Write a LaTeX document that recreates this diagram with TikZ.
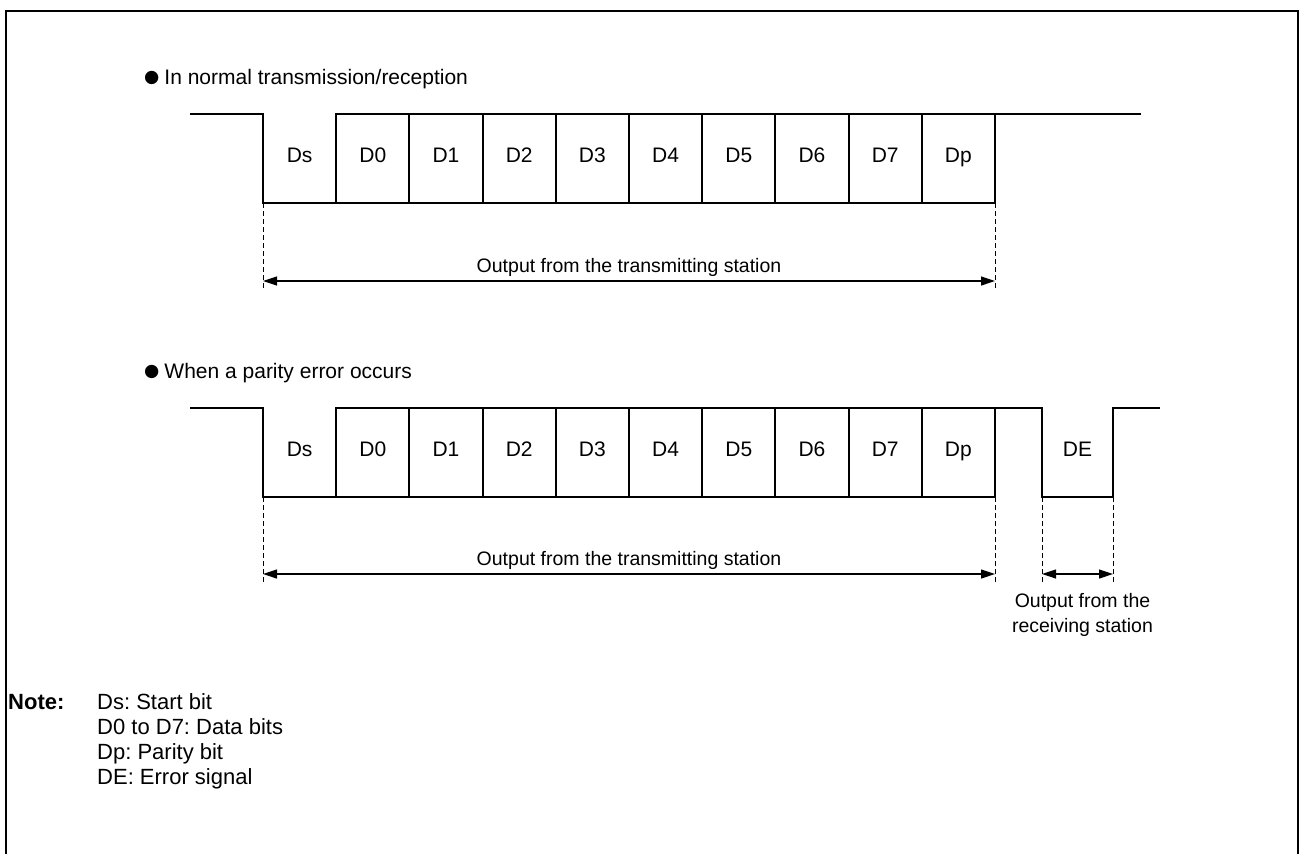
\documentclass[tikz,border=0pt]{standalone}
\usepackage{fontspec}
\setmainfont{Liberation Sans}
\newfontfamily\symfont{DejaVu Sans}
\usepackage{tikz}
\usetikzlibrary{arrows.meta, positioning}
\frenchspacing

\begin{document}
\begin{tikzpicture}[
    x=1pt, y=-1pt,
    wave/.style={line width=2pt},
    cell/.style={rectangle, draw, line width=2pt, minimum width=73.2pt,
                 minimum height=89pt, inner sep=0pt, outer sep=0pt,
                 text height=0.72em, text depth=0pt,
                 font=\fontsize{21}{25}\selectfont},
    guide/.style={line width=0.8pt, dash pattern=on 5pt off 3pt},
    dim/.style={{Triangle[length=14pt,width=9pt]}-{Triangle[length=14pt,width=9pt]},
                line width=1.2pt},
    heading/.style={anchor=base west, inner sep=0pt, font=\fontsize{21}{25}\selectfont},
    label/.style={font=\fontsize{19.5}{25}\selectfont, align=center},
    notetext/.style={anchor=base west, inner sep=0pt, font=\fontsize{22}{25}\selectfont}
]
    \useasboundingbox (0,0) rectangle (1301,854);
    \draw[line width=2.5pt] (6,854) -- (6,11) -- (1298,11) -- (1298,854);

    % normal transmission/reception
    \node[heading] (head1) at (144,84) {\raisebox{1.5pt}{\symfont\fontsize{17.5}{18}\selectfont ●}\hspace{5pt}In normal transmission/reception};
    \node[cell, draw=none] (a0) at (299.6,158.5) {Ds};
    \foreach \lbl [count=\i] in {D0,D1,D2,D3,D4,D5,D6,D7,Dp}
        \node[cell] (a\i) at ({299.6+73.2*\i},158.5) {\lbl};
    \coordinate (lead1) at (190,114);
    \coordinate (tail1) at (1141,114);
    \draw[wave] (lead1) -- (a0.north west) -- (a0.south west) -- (a0.south east);
    \draw[wave] (a9.north east) -- (tail1);

    \draw[guide] (a0.south west) -- ++(0,85);
    \draw[guide] (a9.south east) -- ++(0,85);
    \coordinate (t1l) at (263,281);
    \coordinate (t1r) at (995,281);
    \draw[dim] (t1l) -- node[label, above=1pt] {Output from the transmitting station} (t1r);

    % parity error
    \node[heading] (head2) at (144,378) {\raisebox{1.5pt}{\symfont\fontsize{17.5}{18}\selectfont ●}\hspace{5pt}When a parity error occurs};
    \node[cell, draw=none] (b0) at (299.6,452.5) {Ds};
    \foreach \lbl [count=\i] in {D0,D1,D2,D3,D4,D5,D6,D7,Dp}
        \node[cell] (b\i) at ({299.6+73.2*\i},452.5) {\lbl};
    \node[cell, draw=none, minimum width=71pt] (de) at (1077.5,452.5) {DE};
    \coordinate (lead2) at (190,408);
    \coordinate (tail2) at (1160,408);
    \draw[wave] (lead2) -- (b0.north west) -- (b0.south west) -- (b0.south east);
    \draw[wave] (b9.north east) -- (de.north west) -- (de.south west)
        -- (de.south east) -- (de.north east) -- (tail2);

    \draw[guide] (b0.south west) -- ++(0,85);
    \draw[guide] (b9.south east) -- ++(0,85);
    \draw[guide] (de.south west) -- ++(0,85);
    \draw[guide] (de.south east) -- ++(0,85);
    \coordinate (t2l) at (263,574);
    \coordinate (t2r) at (995,574);
    \draw[dim] (t2l) -- node[label, above=1pt] {Output from the transmitting station} (t2r);
    \coordinate (r2l) at (1042,574);
    \coordinate (r2r) at (1113,574);
    \draw[dim] (r2l) -- node[label, below=15pt, xshift=5pt] {Output from the\\receiving station} (r2r);

    % notes
    \node[notetext, font=\fontsize{22}{25}\selectfont\bfseries] (note) at (8,709) {Note:};
    \foreach \txt [count=\i] in {Ds: Start bit, D0 to D7: Data bits, Dp: Parity bit, DE: Error signal}
        \node[notetext] (n\i) at (97,{684+25*\i}) {\txt};
\end{tikzpicture}
\end{document}
